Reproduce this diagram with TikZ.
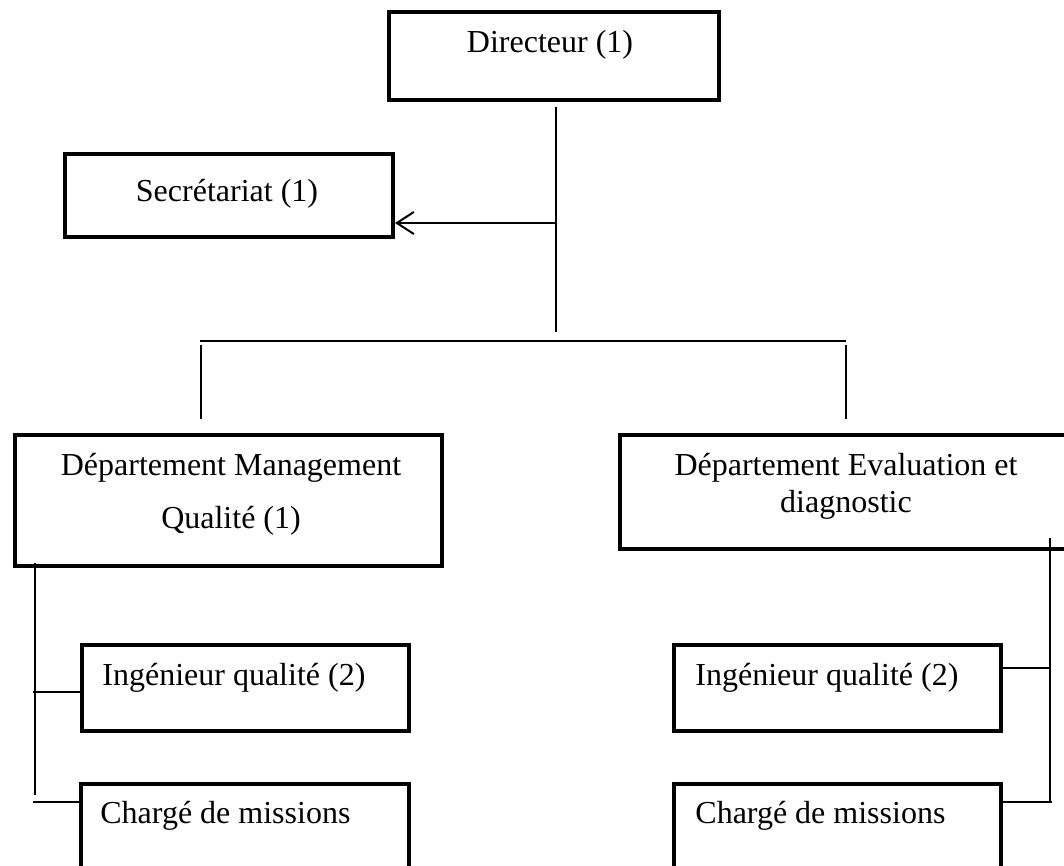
\documentclass[tikz,border=0pt]{standalone}
\usepackage{fontspec}
\setmainfont{Liberation Serif}
\usetikzlibrary{arrows.meta}

\begin{document}
\begin{tikzpicture}[x=0.5pt, y=-0.5pt,
        box/.style={draw, line width=2pt, rectangle, anchor=north west, inner sep=0pt},
        txt/.style={font=\fontsize{16}{19}\selectfont, inner sep=0pt, anchor=base},
        ltxt/.style={txt, anchor=base west},
        link/.style={line width=1pt}]
        \useasboundingbox (0,0) rectangle (1064,866);
        \clip (0,0) rectangle (1064,866);

        \node[box, minimum width=165pt, minimum height=44pt] (dir) at (387, 10) {};
        \node[txt] (dirtxt) at (550, 53) {Directeur (1)};

        \node[box, minimum width=164pt, minimum height=41.5pt] (sec) at (63, 152) {};
        \node[txt] (sectxt) at (227, 202) {Secrétariat (1)};

        \node[box, minimum width=213.5pt, minimum height=65.5pt] (dmq) at (13, 433) {};
        \node[txt] (dmqa) at (231, 475) {Département Management};
        \node[txt] (dmqb) at (231, 528) {Qualité (1)};

        \node[box, minimum width=228pt, minimum height=57pt] (ded) at (618, 433) {};
        \node[txt] (deda) at (846, 475) {Département Evaluation et};
        \node[txt] (dedb) at (846, 512) {diagnostic};

        \node[box, minimum width=163.5pt, minimum height=43pt] (ingl) at (80, 643) {};
        \node[ltxt] (ingltxt) at (102, 685) {Ingénieur qualité (2)};
        \node[box, minimum width=164pt, minimum height=49pt] (chgl) at (79, 782) {};
        \node[ltxt] (chgltxt) at (100, 823) {Chargé de missions};

        \node[box, minimum width=163.5pt, minimum height=43pt] (ingr) at (672, 643) {};
        \node[ltxt] (ingrtxt) at (695, 685) {Ingénieur qualité (2)};
        \node[box, minimum width=163.5pt, minimum height=49pt] (chgr) at (672, 782) {};
        \node[ltxt] (chgrtxt) at (695, 823) {Chargé de missions};

        % liaisons
        \coordinate (dtop) at (556, 107);
        \coordinate (dbot) at (556, 332);
        \coordinate (sj) at (556, 223);
        \coordinate (barl) at (200, 341);
        \coordinate (barr) at (846, 341);
        \coordinate (dropl) at (201, 345);
        \coordinate (dropr) at (846, 345);
        \coordinate (lsp) at (35, 563);
        \coordinate (lspe) at (35, 795);
        \coordinate (rsp) at (1050, 538);
        \coordinate (rspe) at (1050, 803);

        \draw[link] (dtop) -- (dbot);
        \draw[link, -{Straight Barb[length=8.5pt, width=11pt]}] (sj) -- (sj -| sec.east);
        \draw[link] (barl) -- (barr);
        \draw[link] (dropl) -- (201, 419);
        \draw[link] (dropr) -- (846, 419);

        \draw[link] (lsp) -- (lspe);
        \draw[link] (33, 692) -- (ingl.west |- 0,692);
        \draw[link] (33, 802) -- (chgl.west |- 0,802);

        \draw[link] (rsp) -- (rspe);
        \draw[link] (ingr.east |- 0,668) -- (1050, 668);
        \draw[link] (chgr.east |- 0,802) -- (1052, 802);
\end{tikzpicture}
\end{document}
